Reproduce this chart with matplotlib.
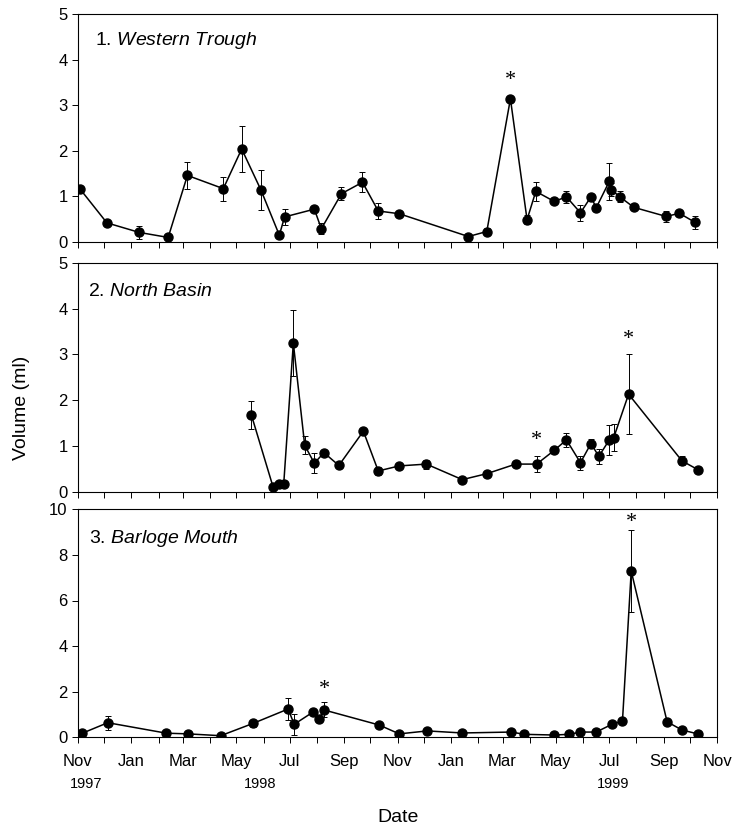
import numpy as np
import pandas as pd
import matplotlib
matplotlib.use("Agg")
import matplotlib.pyplot as plt
import matplotlib.dates as mdates
import matplotlib.transforms as mtransforms

plt.rcParams.update({
    'font.family': ['Liberation Sans', 'DejaVu Sans'],
    'mathtext.fontset': 'custom',
    'mathtext.rm': 'Liberation Sans',
    'mathtext.it': 'Liberation Sans:italic',
})

# 1. Western Trough
wt_dates = ['1997-11-03', '1997-12-04', '1998-01-10', '1998-02-12', '1998-03-06',
            '1998-04-16', '1998-05-07', '1998-05-29', '1998-06-19', '1998-06-25',
            '1998-07-29', '1998-08-06', '1998-08-29', '1998-09-22', '1998-10-10',
            '1998-11-03', '1999-01-21', '1999-02-11', '1999-03-10', '1999-03-29',
            '1999-04-08', '1999-04-29', '1999-05-13', '1999-05-29', '1999-06-10',
            '1999-06-16', '1999-07-01', '1999-07-03', '1999-07-13', '1999-07-29',
            '1999-09-04', '1999-09-19', '1999-10-07']
wt_vol = [1.17, 0.42, 0.21, 0.10, 1.46, 1.17, 2.04, 1.14, 0.15, 0.55, 0.72, 0.29,
          1.06, 1.31, 0.68, 0.62, 0.12, 0.23, 3.14, 0.49, 1.11, 0.89, 0.99, 0.64,
          0.99, 0.75, 1.33, 1.15, 0.99, 0.76, 0.56, 0.63, 0.43]
wt_err = [0.05, 0.0, 0.15, 0.0, 0.29, 0.26, 0.50, 0.43, 0.0, 0.17, 0.0, 0.12,
          0.14, 0.22, 0.17, 0.0, 0.0, 0.07, 0.06, 0.10, 0.20, 0.0, 0.13, 0.17,
          0.0, 0.08, 0.40, 0.15, 0.12, 0.0, 0.12, 0.0, 0.15]
wt_star = ['1999-03-10']
wt_star_y = [3.55]

# 2. North Basin
nb_dates = ['1998-05-18', '1998-06-12', '1998-06-19', '1998-06-24', '1998-07-05',
            '1998-07-18', '1998-07-29', '1998-08-09', '1998-08-26', '1998-09-23',
            '1998-10-10', '1998-11-03', '1998-12-04', '1999-01-14', '1999-02-11',
            '1999-03-16', '1999-04-09', '1999-04-29', '1999-05-13', '1999-05-29',
            '1999-06-10', '1999-06-19', '1999-07-01', '1999-07-06', '1999-07-23',
            '1999-09-22', '1999-10-10']
nb_vol = [1.68, 0.09, 0.16, 0.16, 3.25, 1.01, 0.62, 0.85, 0.57, 1.32, 0.45, 0.56,
          0.60, 0.26, 0.39, 0.60, 0.60, 0.90, 1.13, 0.63, 1.05, 0.77, 1.13, 1.18,
          2.13, 0.67, 0.48]
nb_err = [0.31, 0.0, 0.02, 0.02, 0.73, 0.20, 0.22, 0.0, 0.0, 0.0, 0.08, 0.0,
          0.10, 0.06, 0.06, 0.0, 0.17, 0.0, 0.16, 0.15, 0.10, 0.17, 0.33, 0.30,
          0.88, 0.10, 0.0]
nb_star = ['1999-04-09', '1999-07-23']
nb_star_y = [1.12, 3.32]

# 3. Barloge Mouth
bm_dates = ['1997-11-06', '1997-12-05', '1998-02-10', '1998-03-07', '1998-04-13',
            '1998-05-20', '1998-06-29', '1998-07-06', '1998-07-28', '1998-08-03',
            '1998-08-09', '1998-10-11', '1998-11-03', '1998-12-05', '1999-01-14',
            '1999-03-11', '1999-03-26', '1999-04-29', '1999-05-16', '1999-05-29',
            '1999-06-16', '1999-07-04', '1999-07-16', '1999-07-26', '1999-09-05',
            '1999-09-22', '1999-10-10']
bm_vol = [0.18, 0.64, 0.18, 0.15, 0.07, 0.61, 1.24, 0.57, 1.12, 0.79, 1.20, 0.54,
          0.15, 0.28, 0.19, 0.23, 0.13, 0.10, 0.13, 0.23, 0.23, 0.57, 0.71, 7.29,
          0.68, 0.32, 0.15]
bm_err = [0.08, 0.30, 0.05, 0.0, 0.0, 0.17, 0.50, 0.45, 0.0, 0.10, 0.33, 0.05,
          0.0, 0.0, 0.0, 0.0, 0.0, 0.0, 0.0, 0.0, 0.0, 0.0, 0.0, 1.80,
          0.0, 0.0, 0.0]
bm_star = ['1998-08-09', '1999-07-26']
bm_star_y = [2.1, 9.4]

panels = [
    (r"1. $\it{Western\ Trough}$", wt_dates, wt_vol, wt_err, wt_star, wt_star_y, 5, 1),
    (r"2. $\it{North\ Basin}$", nb_dates, nb_vol, nb_err, nb_star, nb_star_y, 5, 1),
    (r"3. $\it{Barloge\ Mouth}$", bm_dates, bm_vol, bm_err, bm_star, bm_star_y, 10, 2),
]
year_labels = ['1997', '1998', '1999']
year_pos = ['1997-11-10', '1998-05-28', '1999-07-05']

fig = plt.figure(figsize=(7.32, 8.32), dpi=100)
left, width = 78 / 732, 639 / 732
bottoms = [1 - 242 / 832, 1 - 491.5 / 832, 1 - 737.3 / 832]
heights = [228 / 832, 228.4 / 832, 228 / 832]
title_x = [0.027, 0.016, 0.017]
title_y = [0.864, 0.857, 0.851]

for i, (title, dates, vol, err, star, star_y, ymax, ystep) in enumerate(panels):
    ax = fig.add_axes([left, bottoms[i], width, heights[i]])
    d = pd.to_datetime(dates)
    ax.errorbar(d, vol, yerr=err, color='black', marker='o', markersize=6.5,
                linewidth=1.1, elinewidth=0.7, capsize=2.5, capthick=0.7)
    for s, sy in zip(star, star_y):
        ax.text(pd.to_datetime(s), sy, '*', ha='center', va='center',
                fontsize=16, family='Liberation Serif')
    ax.set_xlim(pd.Timestamp('1997-11-01'), pd.Timestamp('1999-11-01'))
    ax.set_ylim(0, ymax)
    ax.set_yticks(np.arange(0, ymax + ystep, ystep))
    ax.xaxis.set_major_locator(mdates.MonthLocator(bymonth=[1, 3, 5, 7, 9, 11]))
    ax.xaxis.set_minor_locator(mdates.MonthLocator())
    ax.xaxis.set_major_formatter(mdates.DateFormatter('%b'))
    ax.tick_params(axis='both', which='both', direction='out', labelsize=12,
                   width=0.7, length=4, color='black')
    ax.tick_params(axis='x', which='both', pad=8)
    if i < 2:
        ax.tick_params(axis='x', labelbottom=False)
    for sp in ax.spines.values():
        sp.set_linewidth(0.8)
    ax.text(title_x[i], title_y[i], title, transform=ax.transAxes, fontsize=14,
            va='baseline', ha='left')
    if i == 2:
        trans = mtransforms.blended_transform_factory(ax.transData, ax.transAxes)
        for lab, pos in zip(year_labels, year_pos):
            ax.text(pd.to_datetime(pos), -0.205, lab, transform=trans, fontsize=10.5,
                    ha='center', va='center')

fig.text(0.03, 1 - 408 / 832, 'Volume (ml)', rotation=90, ha='center', va='center',
         fontsize=14)
fig.text(398 / 732, 1 - 818 / 832, 'Date', ha='center', va='center', fontsize=14)

fig.savefig('out.png', dpi=100)
